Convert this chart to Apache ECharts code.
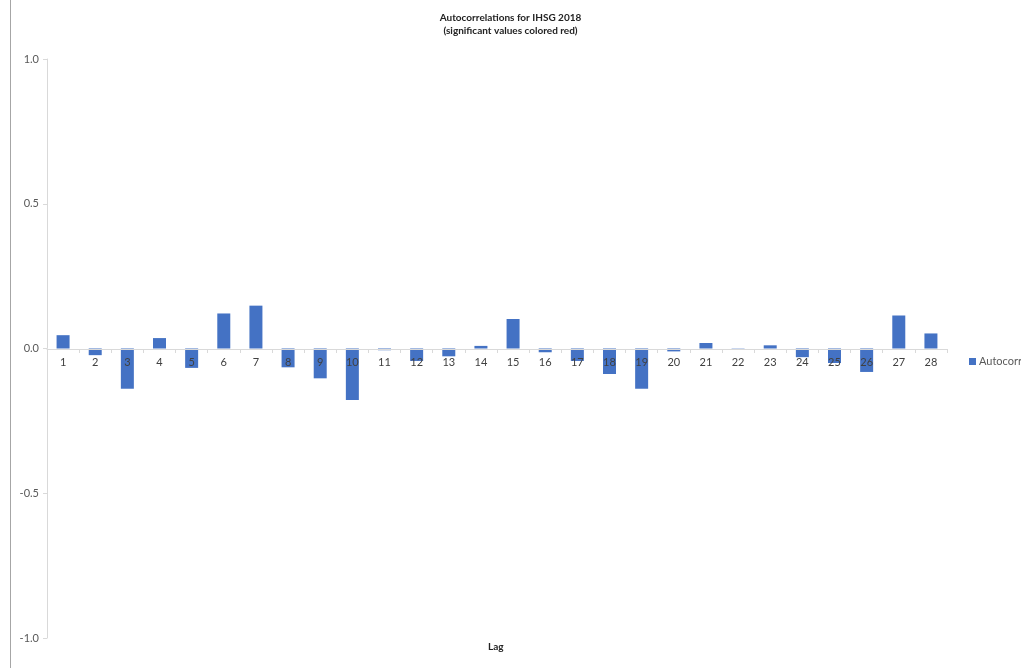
<!DOCTYPE html>
<html>
<head>
<meta charset="utf-8">
<script src="https://cdn.jsdelivr.net/npm/echarts@6/dist/echarts.min.js"></script>
<style>
  html, body { margin: 0; padding: 0; background: #fff; }
  #chart { width: 1021px; height: 668px; }
</style>
</head>
<body>
<div id="chart"></div>
<script>
// lag numbers on the x axis
var lags = ['1', '2', '3', '4', '5', '6', '7', '8', '9', '10', '11', '12', '13', '14',
            '15', '16', '17', '18', '19', '20', '21', '22', '23', '24', '25', '26', '27', '28'];
// autocorrelation values
var autocorr = [0.046, -0.023, -0.139, 0.036, -0.067, 0.121, 0.148, -0.065, -0.103, -0.178,
                -0.006, -0.043, -0.027, 0.009, 0.102, -0.013, -0.043, -0.088, -0.139, -0.010,
                0.019, 0.001, 0.011, -0.030, -0.050, -0.081, 0.114, 0.052];

var chart = echarts.init(document.getElementById('chart'));

var option = {
    animation: false,
    textStyle: { fontFamily: 'Lato, "Liberation Sans", sans-serif' },
    title: {
        text: 'Autocorrelations for IHSG 2018\n(significant values colored red)',
        left: 'center',
        top: 6,
        textStyle: { fontSize: 10, fontWeight: 'bold', color: '#222', lineHeight: 13 }
    },
    legend: {
        data: ['Autocorr'],
        left: 964,
        top: 351,
        itemWidth: 7,
        itemHeight: 7,
        itemGap: 3,
        icon: 'rect',
        textStyle: { fontSize: 11, color: '#595959', padding: [0, 0, 0, -2] }
    },
    grid: { left: 47, right: 74, top: 59, bottom: 30, containLabel: false, outerBoundsMode: 'none' },
    xAxis: {
        type: 'category',
        data: lags,
        offset: -289,
        z: 5,
        axisLine: { onZero: false, lineStyle: { color: '#d9d9d9', width: 1 } },
        axisTick: { show: true, length: 4, lineStyle: { color: '#d9d9d9' } },
        axisLabel: { fontSize: 11, color: '#404040', margin: 8 }
    },
    yAxis: {
        type: 'value',
        min: -1,
        max: 1,
        interval: 0.5,
        axisLine: { show: true, lineStyle: { color: '#d9d9d9' } },
        axisTick: { show: true, length: 4, lineStyle: { color: '#d9d9d9' } },
        splitLine: { show: false },
        axisLabel: {
            fontSize: 11, color: '#595959', margin: 8,
            formatter: function (v) { return v.toFixed(1); }
        }
    },
    graphic: [{
        type: 'line',
        shape: { x1: 10.5, y1: 0, x2: 10.5, y2: 668 },
        style: { stroke: '#a6a6a6', lineWidth: 1 }
    }, {
        type: 'text',
        left: 488,
        top: 642,
        style: { text: 'Lag', fontSize: 10, fontWeight: 'bold', fill: '#222',
                 fontFamily: 'Lato, "Liberation Sans", sans-serif' }
    }],
    series: [{
        name: 'Autocorr',
        type: 'bar',
        data: autocorr,
        barWidth: 13,
        itemStyle: { color: '#4472c4' }
    }]
};

chart.setOption(option);
</script>
</body>
</html>
